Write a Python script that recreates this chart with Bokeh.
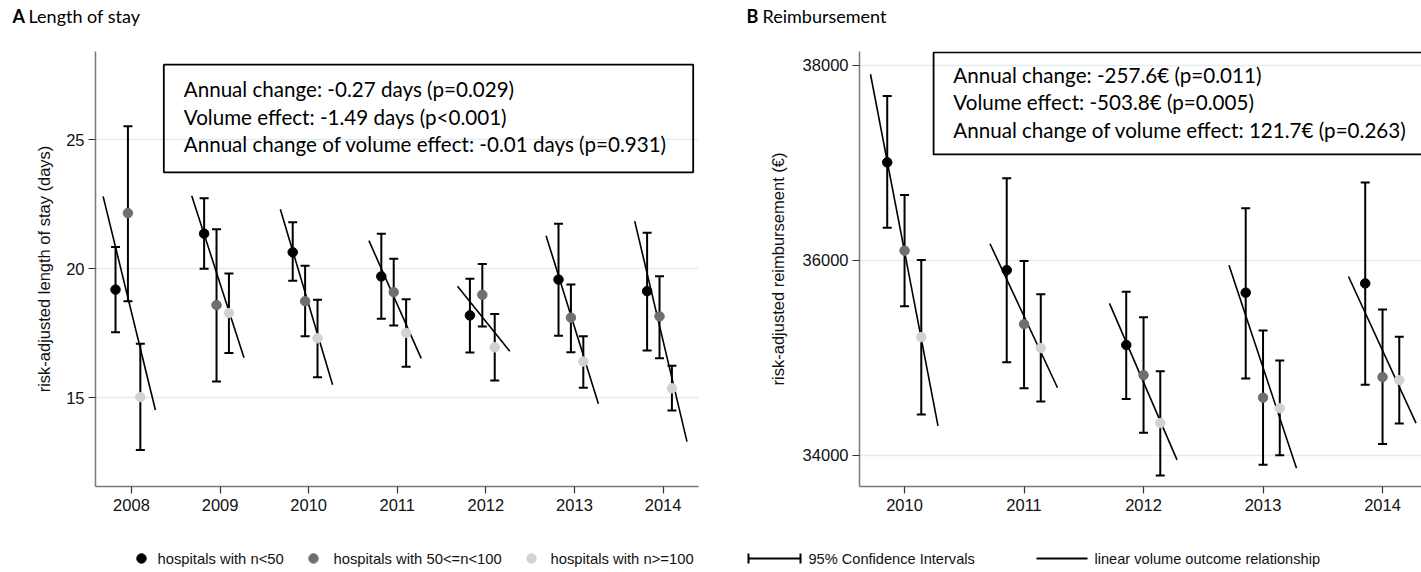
from bokeh.plotting import figure
from bokeh.models import Range1d, Whisker, TeeHead, ColumnDataSource, FixedTicker, Label, BoxAnnotation
from bokeh.layouts import column, row
from bokeh.embed import file_html
from bokeh.resources import INLINE
from bokeh.core.properties import value

# ---------------- data: panel A (length of stay, days) ----------------
years_a = [2008, 2009, 2010, 2011, 2012, 2013, 2014]
los_small = [19.19, 21.36, 20.64, 19.70, 18.19, 19.58, 19.13]
los_small_lo = [17.54, 20.00, 19.53, 18.06, 16.75, 17.40, 16.83]
los_small_hi = [20.84, 22.74, 21.80, 21.36, 19.61, 21.75, 21.40]
los_mid = [22.16, 18.59, 18.74, 19.09, 18.99, 18.10, 18.15]
los_mid_lo = [18.74, 15.62, 17.38, 17.80, 17.76, 16.76, 16.53]
los_mid_hi = [25.53, 21.53, 20.12, 20.39, 20.18, 19.39, 19.71]
los_large = [15.02, 18.28, 17.30, 17.51, 16.95, 16.40, 15.36]
los_large_lo = [12.97, 16.73, 15.79, 16.20, 15.66, 15.38, 14.50]
los_large_hi = [17.09, 19.82, 18.80, 18.82, 18.24, 17.38, 16.24]
los_line_start = [22.81, 22.83, 22.31, 21.09, 19.32, 21.28, 21.85]
los_line_end = [14.52, 16.55, 15.50, 16.52, 16.80, 14.76, 13.29]
los_yticks = [15, 20, 25]
los_text = ["Annual change: -0.27 days (p=0.029)",
            "Volume effect: -1.49 days (p<0.001)",
            "Annual change of volume effect: -0.01 days (p=0.931)"]

# ---------------- data: panel B (reimbursement, EUR) ----------------
years_b = [2010, 2011, 2012, 2013, 2014]
reimb_small = [37003, 35898, 35131, 35667, 35762]
reimb_small_lo = [36332, 34955, 34578, 34789, 34724]
reimb_small_hi = [37682, 36841, 35677, 36532, 36797]
reimb_mid = [36098, 35345, 34822, 34591, 34802]
reimb_mid_lo = [35528, 34687, 34232, 33903, 34117]
reimb_mid_hi = [36668, 35993, 35416, 35280, 35494]
reimb_large = [35212, 35100, 34331, 34483, 34771]
reimb_large_lo = [34418, 34551, 33794, 34001, 34327]
reimb_large_hi = [36003, 35650, 34863, 34972, 35216]
reimb_line_start = [37906, 36169, 35558, 35949, 35833]
reimb_line_end = [34303, 34693, 33954, 33869, 34331]
reimb_yticks = [34000, 36000, 38000]
reimb_text = ["Annual change: -257.6\u20ac (p=0.011)",
              "Volume effect: -503.8\u20ac (p=0.005)",
              "Annual change of volume effect: 121.7\u20ac (p=0.263)"]

group_labels = ["hospitals with n<50", "hospitals with 50<=n<100", "hospitals with n>=100"]
group_colors = ["#000000", "#6f6f6f", "#d2d2d2"]

AX_FONT = "Liberation Sans"
BOX_FONT = "Lato"
GRID = "#e3edef"


def panel(years, groups, line_start, line_end, offsets, line_off, xr, yr, yticks,
          ylabel, label_standoff, borders, width, height, box, texts, text_pos):
    left, right, top, bottom = borders
    p = figure(width=width, height=height, x_range=Range1d(*xr), y_range=Range1d(*yr),
               output_backend="svg", toolbar_location=None,
               min_border_left=left, min_border_right=right,
               min_border_top=top, min_border_bottom=bottom)
    p.outline_line_color = None
    p.background_fill_color = "white"
    p.border_fill_color = "white"
    p.xgrid.visible = False
    p.ygrid.grid_line_color = GRID
    p.ygrid.grid_line_width = 1.5
    p.xaxis.ticker = FixedTicker(ticks=years)
    p.yaxis.ticker = FixedTicker(ticks=yticks)
    for ax in (p.xaxis, p.yaxis):
        ax.axis_line_color = "#7a7a7a"
        ax.axis_line_width = 1.5
        ax.major_tick_line_color = "#333333"
        ax.major_tick_line_width = 1.2
        ax.major_tick_out = 7
        ax.major_tick_in = 0
        ax.minor_tick_line_color = None
        ax.major_label_text_font = AX_FONT
        ax.major_label_text_font_size = "16.5px"
        ax.major_label_text_color = "#111111"
        ax.major_label_standoff = 4
    p.xaxis.major_label_standoff = 5
    p.yaxis.axis_label = ylabel
    p.yaxis.axis_label_text_font = AX_FONT
    p.yaxis.axis_label_text_font_size = "16.5px"
    p.yaxis.axis_label_text_font_style = "normal"
    p.yaxis.axis_label_text_color = "#111111"
    p.yaxis.axis_label_standoff = label_standoff

    # regression lines
    src_l = ColumnDataSource(dict(x0=[y + line_off[0] for y in years], y0=line_start,
                                  x1=[y + line_off[1] for y in years], y1=line_end))
    p.segment(x0="x0", y0="y0", x1="x1", y1="y1", source=src_l,
              line_color="black", line_width=1.6)

    for (mid, lo, hi), off, col in zip(groups, offsets, group_colors):
        src = ColumnDataSource(dict(x=[y + off for y in years], mid=mid, lo=lo, hi=hi))
        w = Whisker(source=src, base="x", upper="hi", lower="lo", dimension="height",
                    line_color="black", line_width=2, level="underlay",
                    upper_head=TeeHead(size=9, line_color="black", line_width=2),
                    lower_head=TeeHead(size=9, line_color="black", line_width=2))
        p.add_layout(w)
        p.scatter("x", "mid", source=src, size=9.5, marker="circle",
                  fill_color=col, line_color=col)

    bl, br, bt, bb = box
    p.add_layout(BoxAnnotation(left=bl, right=br, top=bt, bottom=bb,
                               fill_alpha=0, line_color="black", line_alpha=1.0,
                               line_width=1.8, level="overlay"))
    tx, tys = text_pos
    for t, ty in zip(texts, tys):
        p.add_layout(Label(x=tx, y=ty, text=t, text_font=BOX_FONT,
                           text_font_size="20.6px", text_baseline="middle",
                           text_color="#000000"))
    return p


pA = panel(years_a,
           [(los_small, los_small_lo, los_small_hi),
            (los_mid, los_mid_lo, los_mid_hi),
            (los_large, los_large_lo, los_large_hi)],
           los_line_start, los_line_end,
           offsets=(-0.18, -0.04, 0.10), line_off=(-0.32, 0.27),
           xr=(2007.594, 2014.40), yr=(11.55, 28.43), yticks=los_yticks,
           ylabel="risk-adjusted length of stay (days)", label_standoff=10,
           borders=(95, 12, 11, 34), width=710, height=480,
           box=(2008.365, 2014.34, 27.92, 23.74), texts=los_text,
           text_pos=(2008.59, [26.98, 25.90, 24.84]))

pB = panel(years_b,
           [(reimb_small, reimb_small_lo, reimb_small_hi),
            (reimb_mid, reimb_mid_lo, reimb_mid_hi),
            (reimb_large, reimb_large_lo, reimb_large_hi)],
           reimb_line_start, reimb_line_end,
           offsets=(-0.145, 0.0, 0.14), line_off=(-0.285, 0.28),
           xr=(2009.623, 2014.326), yr=(33681, 38139), yticks=reimb_yticks,
           ylabel="risk-adjusted reimbursement (\u20ac)", label_standoff=13,
           borders=(149, 0, 8, 34), width=711, height=480,
           box=(2010.243, 2014.6, 38130, 37084), texts=reimb_text,
           text_pos=(2010.408, [37898, 37617, 37338]))


def strip(h):
    s = figure(width=1421, height=h, x_range=Range1d(0, 1421), y_range=Range1d(h, 0),
               output_backend="svg", toolbar_location=None,
               x_axis_location=None, y_axis_location=None,
               min_border_left=0, min_border_right=0, min_border_top=0, min_border_bottom=0)
    s.outline_line_color = None
    s.grid.visible = False
    return s


# titles strip
top = strip(40)
title_letters = ["A", "B"]
title_words = ["Length of stay", "Reimbursement"]
top.text(x=[12, 746], y=[15, 15], text=title_letters, text_font=value(BOX_FONT),
         text_font_style="bold", text_font_size="18px", text_baseline="middle",
         text_color="#000000")
top.text(x=[28, 762], y=[15, 15], text=title_words, text_font=value(BOX_FONT),
         text_font_size="18px", text_baseline="middle", text_color="#000000")

# legend strip
leg = strip(52)
ly = 38
leg.scatter(x=[141, 313, 531], y=[ly] * 3, size=9.5, marker="circle",
            fill_color=group_colors, line_color=group_colors)
leg.text(x=[157, 333, 550], y=[ly] * 3, text=group_labels, text_font=value(AX_FONT),
         text_font_size="14.8px", text_baseline="middle", text_color="#111111")
leg.segment(x0=[748, 748, 800, 1036], y0=[ly, ly - 5, ly - 5, ly],
            x1=[800, 748, 800, 1087], y1=[ly, ly + 5, ly + 5, ly],
            line_color="black", line_width=2)
leg.text(x=[808, 1094], y=[ly] * 2,
         text=["95% Confidence Intervals", "linear volume outcome relationship"],
         text_font=value(AX_FONT), text_font_size="14.6px", text_baseline="middle",
         text_color="#111111")

layout = column(top, row(pA, pB), leg)
open("out.html", "w").write(file_html(layout, INLINE))
